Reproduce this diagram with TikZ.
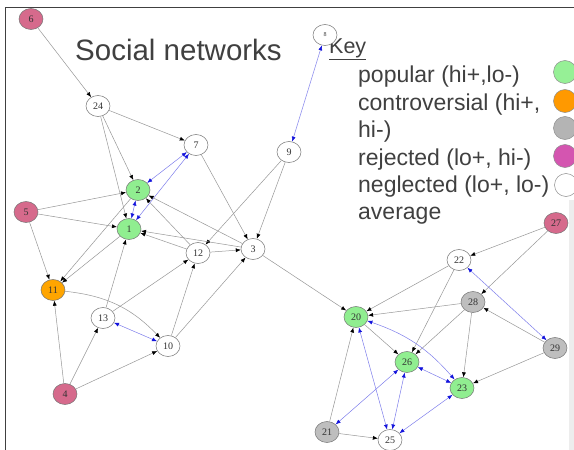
\documentclass[tikz,border=0pt]{standalone}
\usepackage{fontspec}
\setmainfont{Liberation Serif}
\newfontfamily\sansf{Liberation Sans}
\usetikzlibrary{shapes.geometric,arrows.meta}
\definecolor{popg}{RGB}{144,238,144}
\definecolor{conto}{RGB}{255,165,0}
\definecolor{negg}{RGB}{190,190,190}
\definecolor{rejr}{RGB}{214,106,140}
\definecolor{keyg}{RGB}{150,240,150}
\definecolor{keyo}{RGB}{255,153,0}
\definecolor{keyy}{RGB}{180,180,180}
\definecolor{keym}{RGB}{212,85,176}
\definecolor{txt}{RGB}{64,64,64}
\definecolor{edgeg}{RGB}{150,150,150}
\definecolor{edgeb}{RGB}{125,125,235}
\definecolor{tipb}{RGB}{20,20,220}
\tikzset{
  v/.style={ellipse, draw=black!55, line width=0.5pt, minimum width=24pt, minimum height=21pt,
    inner sep=0pt, font=\fontsize{10}{10}\selectfont, text=black!80, fill=white},
  pop/.style={v, fill=popg},
  con/.style={v, fill=conto},
  neg/.style={v, fill=negg},
  rej/.style={v, fill=rejr},
  e/.style={draw=edgeg, line width=0.5pt, -{Latex[length=5pt,width=4pt,color=black]}},
  bi/.style={draw=edgeb, line width=0.5pt,
    {Latex[length=5pt,width=4pt,color=tipb]}-{Latex[length=5pt,width=4pt,color=tipb]}},
  legtext/.style={anchor=base west, inner sep=0pt, text=txt, font=\sansf\fontsize{23}{23}\selectfont},
  legdot/.style={circle, draw=black!45, line width=0.5pt, minimum size=23pt, inner sep=0pt}
}
\begin{document}
\begin{tikzpicture}[x=1pt,y=-1pt]
\useasboundingbox (0,0) rectangle (574,450);
\path[clip] (0,0) rectangle (574,450);
\fill[black!7] (569,200) rectangle (574,450);
\draw[black!75, line width=0.8pt] (574,7) -- (5,7) -- (5,450);

% title and key
\node[anchor=base west, inner sep=0pt, text=txt, font=\sansf\fontsize{29.5}{30}\selectfont] (title) at (75,60) {Social networks};
\node[anchor=base west, inner sep=0pt, text=txt, font=\sansf\fontsize{21.5}{22}\selectfont] (key) at (329,53) {\underline{Key}};
\node[legtext] (l1) at (358,82) {popular (hi+,lo-)};
\node[legtext] (l2) at (358,110) {controversial (hi+,};
\node[legtext] (l3) at (358,137) {hi-)};
\node[legtext] (l4) at (358,165) {rejected (lo+, hi-)};
\node[legtext] (l5) at (358,192) {neglected (lo+, lo-)};
\node[legtext] (l6) at (358,219) {average};
\node[legdot, fill=keyg] (k1) at (565,72) {};
\node[legdot, fill=keyo] (k2) at (565,101) {};
\node[legdot, fill=keyy] (k3) at (565,128) {};
\node[legdot, fill=keym] (k4) at (565,156) {};
\node[legdot, fill=white] (k5) at (566,185) {};

% nodes
\node[rej] (n6) at (31,19) {6};
\node[v] (n24) at (98,106) {24};
\node[v] (n7) at (196,145) {7};
\node[v] (n9) at (289,152) {9};
\node[v, font=\fontsize{6}{6}\selectfont] (n8) at (325,35) {8};
\node[pop] (n2) at (138,190) {2};
\node[rej] (n5) at (26,212) {5};
\node[pop] (n1) at (129,229) {1};
\node[v] (n12) at (198,253) {12};
\node[v] (n3) at (253,249) {3};
\node[con] (n11) at (53,290) {11};
\node[v] (n13) at (103,318) {13};
\node[v] (n10) at (168,346) {10};
\node[rej] (n4) at (65,394) {4};
\node[rej] (n27) at (556,223) {27};
\node[v] (n22) at (459,260) {22};
\node[neg] (n28) at (473,302) {28};
\node[pop] (n20) at (356,317) {20};
\node[neg] (n29) at (555,348) {29};
\node[pop] (n26) at (407,362) {26};
\node[pop] (n23) at (462,388) {23};
\node[neg] (n21) at (327,432) {21};
\node[v] (n25) at (390,440) {25};

% directed edges
\draw[e] (n6) -- (n24);
\draw[e] (n24) -- (n7);
\draw[e] (n24) -- (n2);
\draw[e] (n24) -- (n1);
\draw[e] (n5) -- (n2);
\draw[e] (n5) -- (n1);
\draw[e] (n5) -- (n11);
\draw[e] (n2) -- (n11);
\draw[e] (n1) -- (n11);
\draw[e] (n7) -- (n3);
\draw[e] (n9) -- (n3);
\draw[e] (n9) -- (n12);
\draw[e] (n3) -- (n2);
\draw[e] (n3) -- (n1);
\draw[e] (n12) -- (n1);
\draw[e] (n12) -- (n2);
\draw[e] (n12) -- (n3);
\draw[e] (n13) -- (n1);
\draw[e] (n13) -- (n12);
\draw[e] (n10) -- (n12);
\draw[e] (n10) -- (n3);
\draw[e] (n11) to[bend left=20] (n10);
\draw[e] (n4) -- (n11);
\draw[e] (n4) -- (n13);
\draw[e] (n4) -- (n10);
\draw[e] (n3) -- (n20);
\draw[e] (n27) -- (n22);
\draw[e] (n27) -- (n28);
\draw[e] (n22) -- (n20);
\draw[e] (n22) -- (n26);
\draw[e] (n28) -- (n20);
\draw[e] (n28) -- (n26);
\draw[e] (n28) -- (n23);
\draw[e] (n29) -- (n28);
\draw[e] (n29) -- (n23);
\draw[e] (n20) -- (n26);
\draw[e] (n21) -- (n20);
\draw[e] (n21) -- (n25);

% mutual edges
\draw[bi] (n2) -- (n7);
\draw[bi] (n1) -- (n7);
\draw[bi] (n1) -- (n2);
\draw[bi] (n13) -- (n10);
\draw[bi] (n8) -- (n9);
\draw[bi] (n22) -- (n29);
\draw[bi] (n20) to[bend left=15] (n23);
\draw[bi] (n20) -- (n25);
\draw[bi] (n26) -- (n23);
\draw[bi] (n26) -- (n25);
\draw[bi] (n26) -- (n21);
\draw[bi] (n23) -- (n25);
\end{tikzpicture}
\end{document}
